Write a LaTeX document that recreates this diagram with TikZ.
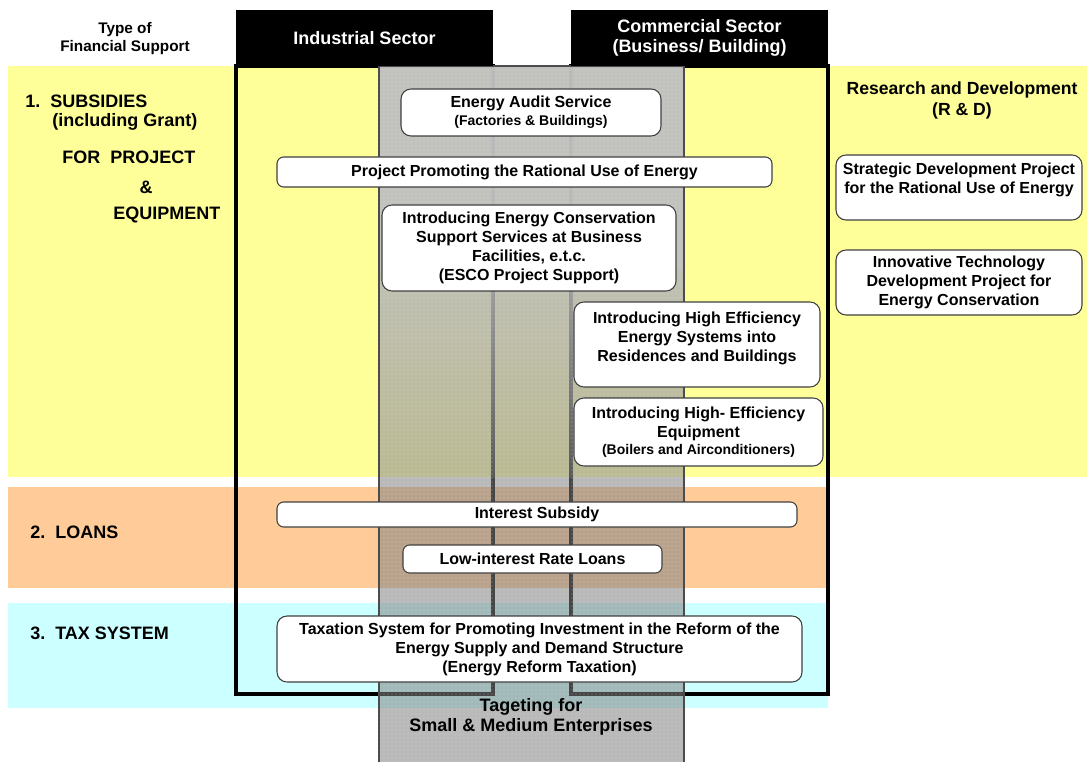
\documentclass[tikz,border=0pt]{standalone}
\usepackage{fontspec}
\setmainfont{Liberation Sans}
\usetikzlibrary{fit,fadings,patterns}

\definecolor{bandyellow}{HTML}{FFFF99}
\definecolor{bandorange}{HTML}{FFCC99}
\definecolor{bandcyan}{HTML}{CCFFFF}
\definecolor{boxline}{HTML}{404040}
\definecolor{smeband}{HTML}{808080}
\definecolor{smetop}{HTML}{C2C2C2}

\newcommand\bxfont{\fontsize{12}{14.25}\selectfont\bfseries}
\newcommand\smfont{\fontsize{10.5}{13.5}\selectfont\bfseries}
\newcommand\lbfont{\fontsize{13.5}{15}\selectfont\bfseries}

\tikzset{
  frame/.style={draw=black, line width=2.3pt},
  hdr/.style={fill=black, inner sep=0pt},
  hdrtext/.style={text=white, inner sep=0pt, align=center,
              font=\fontsize{13.5}{15}\selectfont\bfseries},
  measure/.style={draw=boxline, line width=0.8pt, fill=white, rounded corners=7.5pt,
              inner sep=0pt},
  thinbox/.style={measure, rounded corners=5pt},
  mtext/.style={inner sep=0pt, align=center, font=\bxfont},
  lbl/.style={inner sep=0pt, font=\lbfont, anchor=west},
}

\begin{document}
\begin{tikzpicture}[x=0.75pt, y=-0.75pt]
\useasboundingbox (0,0) rectangle (1087,762);
\fill[white] (0,0) rectangle (1087,762);

% rows of support types
\fill[bandyellow] (8,66) rectangle (1087,477);
\fill[bandorange] (8,487) rectangle (828,588);
\fill[bandcyan] (8,603) rectangle (828,708);

% sector frames
\draw[frame] (236,66) rectangle (493,694);
\draw[frame] (571,66) rectangle (828,694);

% SME column laid over the sectors: solid grey at the top, fading lower down
\fill[smeband, fill opacity=0.55] (379,66) rectangle (684,762);
\fill[smetop, fill opacity=0.93] (379,66) rectangle (684,270);
\begin{scope}
  \clip (379,269.5) rectangle (684,477);
  \fill[smetop, fill opacity=0.93, path fading=south] (379,210) rectangle (684,530);
\end{scope}
\fill[pattern=dots, pattern color=white, opacity=0.35] (379,66) rectangle (684,762);
\draw[gray!60!black, line width=0.8pt] (379,775) -- (379,66) -- (684,66) -- (684,775);

% sector headers
\node[hdr, fit={(236,10) (493,66)}] (ind) {};
\node[hdrtext] (indtext) at (ind.center) {Industrial Sector};
\node[hdr, fit={(571,10) (828,66)}] (com) {};
\node[hdrtext] (comtext) at (com.center) {Commercial Sector\\(Business/ Building)};

% left column labels
\node[inner sep=0pt, align=center, font=\fontsize{11.5}{13.5}\selectfont\bfseries]
  (type) at (125,39) {Type of\\Financial Support};
\node[lbl] (sub)   at (25,101)  {1.\ \ SUBSIDIES};
\node[lbl] (grant) at (52,122)  {(including Grant)};
\node[lbl] (forp)  at (62,157)  {FOR\ \ PROJECT};
\node[lbl, anchor=center] (amp) at (146,187) {\&};
\node[lbl] (equip) at (113,215) {EQUIPMENT};
\node[lbl] (loans) at (30,532)  {2.\ \ LOANS};
\node[lbl] (tax)   at (30,633)  {3.\ \ TAX SYSTEM};

% subsidy measures
\node[measure, fit={(401,89) (661,136)}] (audit) {};
\node[mtext] (audittext) at (audit.center)
  {Energy Audit Service\\[-1pt]{\smfont (Factories \& Buildings)}};
\node[thinbox, fit={(277,157) (772,187)}] (rational) {};
\node[mtext] (rationaltext) at (rational.center)
  {Project Promoting the Rational Use of Energy};
\node[measure, fit={(382,205) (676,291)}] (esco) {};
\node[mtext] (escotext) at (esco.center)
  {Introducing Energy Conservation\\Support Services at Business\\Facilities, e.t.c.\\(ESCO Project Support)};
\node[measure, fit={(574,302) (820,387)}] (hesys) {};
\node[mtext, anchor=north] (hesystext) at ([yshift=-7.5pt]hesys.north)
  {Introducing High Efficiency\\Energy Systems into\\Residences and Buildings};
\node[measure, fit={(574,398) (823,466)}] (heequip) {};
\node[mtext] (heequiptext) at (heequip.center)
  {Introducing High- Efficiency\\Equipment\\[-1pt]{\smfont (Boilers and Airconditioners)}};

% loans
\node[thinbox, fit={(277,502) (797,527)}] (interest) {};
\node[mtext] (interesttext) at (interest.center) {Interest Subsidy};
\node[thinbox, fit={(403,545) (662,573)}] (lowrate) {};
\node[mtext] (lowratetext) at (lowrate.center) {Low-interest Rate Loans};

% tax system
\node[measure, fit={(277,616) (802,682)}] (reform) {};
\node[mtext] (reformtext) at (reform.center)
  {Taxation System for Promoting Investment in the Reform of the\\Energy Supply and Demand Structure\\(Energy Reform Taxation)};

% research and development
\node[inner sep=0pt, align=center, font=\fontsize{13.2}{15.75}\selectfont\bfseries]
  (rd) at (962,100) {Research and Development\\(R \& D)};
\node[measure, fit={(836,155) (1082,220)}] (strategic) {};
\node[mtext, anchor=north] (strategictext) at ([yshift=-6.5pt]strategic.north)
  {Strategic Development Project\\for the Rational Use of Energy};
\node[measure, fit={(836,250) (1082,315)}] (innov) {};
\node[mtext] (innovtext) at (innov.center)
  {Innovative Technology\\Development Project for\\Energy Conservation};

% SME target
\node[inner sep=0pt, align=center, font=\lbfont] (sme) at (531,717)
  {Tageting for\\Small \& Medium Enterprises};
\end{tikzpicture}
\end{document}
